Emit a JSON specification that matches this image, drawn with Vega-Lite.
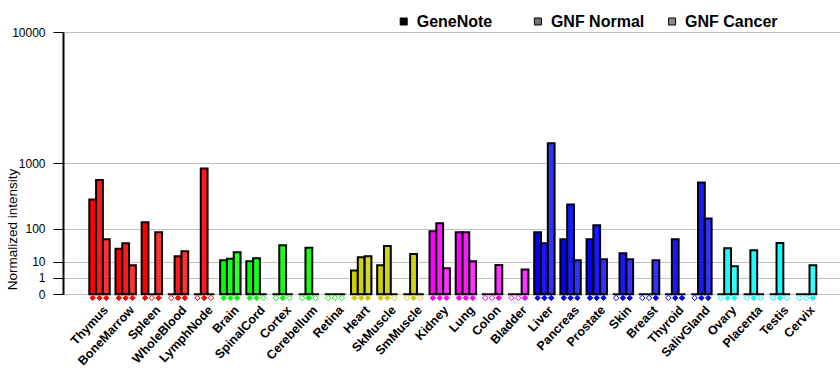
{
  "$schema": "https://vega.github.io/schema/vega-lite/v6.json",
  "width": 777,
  "height": 262.3,
  "autosize": {"type": "none"},
  "padding": {"left": 63, "top": 32, "right": 0, "bottom": 90.7},
  "background": "white",
  "config": {"view": {"stroke": null}, "font": "Liberation Sans"},
  "data": {"values": [
    {"tissue": "Thymus", "grp": "Immune", "series": "GeneNote", "value": 341, "call": "P"},
    {"tissue": "Thymus", "grp": "Immune", "series": "GNF Normal", "value": 631, "call": "P"},
    {"tissue": "Thymus", "grp": "Immune", "series": "GNF Cancer", "value": 55.6, "call": "P"},
    {"tissue": "BoneMarrow", "grp": "Immune", "series": "GeneNote", "value": 29.8, "call": "P"},
    {"tissue": "BoneMarrow", "grp": "Immune", "series": "GNF Normal", "value": 43.3, "call": "P"},
    {"tissue": "BoneMarrow", "grp": "Immune", "series": "GNF Cancer", "value": 6.6, "call": "P"},
    {"tissue": "Spleen", "grp": "Immune", "series": "GeneNote", "value": 136, "call": "P"},
    {"tissue": "Spleen", "grp": "Immune", "series": "GNF Normal", "value": 0, "call": "A"},
    {"tissue": "Spleen", "grp": "Immune", "series": "GNF Cancer", "value": 82.8, "call": "P"},
    {"tissue": "WholeBlood", "grp": "Immune", "series": "GeneNote", "value": 0, "call": "A"},
    {"tissue": "WholeBlood", "grp": "Immune", "series": "GNF Normal", "value": 16.3, "call": "P"},
    {"tissue": "WholeBlood", "grp": "Immune", "series": "GNF Cancer", "value": 24.5, "call": "P"},
    {"tissue": "LymphNode", "grp": "Immune", "series": "GeneNote", "value": 0, "call": "A"},
    {"tissue": "LymphNode", "grp": "Immune", "series": "GNF Normal", "value": 871, "call": "P"},
    {"tissue": "LymphNode", "grp": "Immune", "series": "GNF Cancer", "value": 0, "call": "A"},
    {"tissue": "Brain", "grp": "Neural", "series": "GeneNote", "value": 11.2, "call": "P"},
    {"tissue": "Brain", "grp": "Neural", "series": "GNF Normal", "value": 13.1, "call": "P"},
    {"tissue": "Brain", "grp": "Neural", "series": "GNF Cancer", "value": 22.7, "call": "P"},
    {"tissue": "SpinalCord", "grp": "Neural", "series": "GeneNote", "value": 10.2, "call": "P"},
    {"tissue": "SpinalCord", "grp": "Neural", "series": "GNF Normal", "value": 13.6, "call": "P"},
    {"tissue": "SpinalCord", "grp": "Neural", "series": "GNF Cancer", "value": 0, "call": "A"},
    {"tissue": "Cortex", "grp": "Neural", "series": "GeneNote", "value": 0, "call": "A"},
    {"tissue": "Cortex", "grp": "Neural", "series": "GNF Normal", "value": 37.8, "call": "P"},
    {"tissue": "Cortex", "grp": "Neural", "series": "GNF Cancer", "value": 0, "call": "A"},
    {"tissue": "Cerebellum", "grp": "Neural", "series": "GeneNote", "value": 0, "call": "A"},
    {"tissue": "Cerebellum", "grp": "Neural", "series": "GNF Normal", "value": 32.1, "call": "P"},
    {"tissue": "Cerebellum", "grp": "Neural", "series": "GNF Cancer", "value": 0, "call": "A"},
    {"tissue": "Retina", "grp": "Neural", "series": "GeneNote", "value": 0, "call": "A"},
    {"tissue": "Retina", "grp": "Neural", "series": "GNF Normal", "value": 0, "call": "A"},
    {"tissue": "Retina", "grp": "Neural", "series": "GNF Cancer", "value": 0, "call": "A"},
    {"tissue": "Heart", "grp": "Muscle", "series": "GeneNote", "value": 3.5, "call": "P"},
    {"tissue": "Heart", "grp": "Muscle", "series": "GNF Normal", "value": 14.9, "call": "P"},
    {"tissue": "Heart", "grp": "Muscle", "series": "GNF Cancer", "value": 16.3, "call": "P"},
    {"tissue": "SkMuscle", "grp": "Muscle", "series": "GeneNote", "value": 6.6, "call": "P"},
    {"tissue": "SkMuscle", "grp": "Muscle", "series": "GNF Normal", "value": 36.1, "call": "P"},
    {"tissue": "SkMuscle", "grp": "Muscle", "series": "GNF Cancer", "value": 0, "call": "A"},
    {"tissue": "SmMuscle", "grp": "Muscle", "series": "GeneNote", "value": 0, "call": "A"},
    {"tissue": "SmMuscle", "grp": "Muscle", "series": "GNF Normal", "value": 19.8, "call": "P"},
    {"tissue": "SmMuscle", "grp": "Muscle", "series": "GNF Cancer", "value": 0, "call": "A"},
    {"tissue": "Kidney", "grp": "Epithelial", "series": "GeneNote", "value": 87.3, "call": "P"},
    {"tissue": "Kidney", "grp": "Epithelial", "series": "GNF Normal", "value": 130, "call": "P"},
    {"tissue": "Kidney", "grp": "Epithelial", "series": "GNF Cancer", "value": 4.6, "call": "P"},
    {"tissue": "Lung", "grp": "Epithelial", "series": "GeneNote", "value": 82.8, "call": "P"},
    {"tissue": "Lung", "grp": "Epithelial", "series": "GNF Normal", "value": 82.8, "call": "P"},
    {"tissue": "Lung", "grp": "Epithelial", "series": "GNF Cancer", "value": 10.2, "call": "P"},
    {"tissue": "Colon", "grp": "Epithelial", "series": "GeneNote", "value": 0, "call": "A"},
    {"tissue": "Colon", "grp": "Epithelial", "series": "GNF Normal", "value": 0, "call": "A"},
    {"tissue": "Colon", "grp": "Epithelial", "series": "GNF Cancer", "value": 6.9, "call": "P"},
    {"tissue": "Bladder", "grp": "Epithelial", "series": "GeneNote", "value": 0, "call": "A"},
    {"tissue": "Bladder", "grp": "Epithelial", "series": "GNF Normal", "value": 0, "call": "A"},
    {"tissue": "Bladder", "grp": "Epithelial", "series": "GNF Cancer", "value": 4.0, "call": "P"},
    {"tissue": "Liver", "grp": "Gland", "series": "GeneNote", "value": 82.8, "call": "P"},
    {"tissue": "Liver", "grp": "Gland", "series": "GNF Normal", "value": 43.3, "call": "P"},
    {"tissue": "Liver", "grp": "Gland", "series": "GNF Cancer", "value": 1603, "call": "P"},
    {"tissue": "Pancreas", "grp": "Gland", "series": "GeneNote", "value": 55.6, "call": "P"},
    {"tissue": "Pancreas", "grp": "Gland", "series": "GNF Normal", "value": 285, "call": "P"},
    {"tissue": "Pancreas", "grp": "Gland", "series": "GNF Cancer", "value": 11.2, "call": "P"},
    {"tissue": "Prostate", "grp": "Gland", "series": "GeneNote", "value": 55.6, "call": "P"},
    {"tissue": "Prostate", "grp": "Gland", "series": "GNF Normal", "value": 118, "call": "P"},
    {"tissue": "Prostate", "grp": "Gland", "series": "GNF Cancer", "value": 12.4, "call": "P"},
    {"tissue": "Skin", "grp": "Gland", "series": "GeneNote", "value": 0, "call": "A"},
    {"tissue": "Skin", "grp": "Gland", "series": "GNF Normal", "value": 20.9, "call": "P"},
    {"tissue": "Skin", "grp": "Gland", "series": "GNF Cancer", "value": 12.4, "call": "P"},
    {"tissue": "Breast", "grp": "Gland", "series": "GeneNote", "value": 0, "call": "A"},
    {"tissue": "Breast", "grp": "Gland", "series": "GNF Normal", "value": 0, "call": "A"},
    {"tissue": "Breast", "grp": "Gland", "series": "GNF Cancer", "value": 11.2, "call": "P"},
    {"tissue": "Thyroid", "grp": "Gland", "series": "GeneNote", "value": 0, "call": "A"},
    {"tissue": "Thyroid", "grp": "Gland", "series": "GNF Normal", "value": 55.6, "call": "P"},
    {"tissue": "Thyroid", "grp": "Gland", "series": "GNF Cancer", "value": 0, "call": "P"},
    {"tissue": "SalivGland", "grp": "Gland", "series": "GeneNote", "value": 0, "call": "A"},
    {"tissue": "SalivGland", "grp": "Gland", "series": "GNF Normal", "value": 590, "call": "P"},
    {"tissue": "SalivGland", "grp": "Gland", "series": "GNF Cancer", "value": 162.6, "call": "P"},
    {"tissue": "Ovary", "grp": "Reproductive", "series": "GeneNote", "value": 0, "call": "A"},
    {"tissue": "Ovary", "grp": "Reproductive", "series": "GNF Normal", "value": 30.7, "call": "P"},
    {"tissue": "Ovary", "grp": "Reproductive", "series": "GNF Cancer", "value": 5.9, "call": "P"},
    {"tissue": "Placenta", "grp": "Reproductive", "series": "GeneNote", "value": 0, "call": "A"},
    {"tissue": "Placenta", "grp": "Reproductive", "series": "GNF Normal", "value": 26.5, "call": "P"},
    {"tissue": "Placenta", "grp": "Reproductive", "series": "GNF Cancer", "value": 0, "call": "A"},
    {"tissue": "Testis", "grp": "Reproductive", "series": "GeneNote", "value": 0, "call": "A"},
    {"tissue": "Testis", "grp": "Reproductive", "series": "GNF Normal", "value": 44.2, "call": "P"},
    {"tissue": "Testis", "grp": "Reproductive", "series": "GNF Cancer", "value": 0, "call": "A"},
    {"tissue": "Cervix", "grp": "Reproductive", "series": "GeneNote", "value": 0, "call": "A"},
    {"tissue": "Cervix", "grp": "Reproductive", "series": "GNF Normal", "value": 0, "call": "A"},
    {"tissue": "Cervix", "grp": "Reproductive", "series": "GNF Cancer", "value": 6.6, "call": "P"}
  ]},
  "layer": [
    {
      "mark": {"type": "bar", "stroke": "black", "strokeWidth": 2},
      "encoding": {
        "x": {
          "field": "tissue", "type": "nominal", "sort": null,
          "scale": {"paddingInner": 0.2205, "paddingOuter": 0.955, "align": 0.526},
          "axis": {"title": null, "domain": false, "ticks": false, "labelAngle": -47, "labelAlign": "right", "labelBaseline": "top",
                   "labelFont": "Liberation Sans", "labelFontSize": 12.5, "labelFontWeight": "bold", "labelColor": "black", "labelPadding": 9, "labelOffset": 2}
        },
        "xOffset": {"field": "series", "type": "nominal", "sort": ["GeneNote", "GNF Normal", "GNF Cancer"], "scale": {"paddingInner": 0, "paddingOuter": 0}},
        "y": {
          "field": "value", "type": "quantitative",
          "scale": {"type": "pow", "exponent": 0.30103, "domain": [0, 10000], "nice": false, "zero": true},
          "axis": {"values": [0, 1, 10, 100, 1000, 10000], "format": "d", "title": "Normalized intensity",
                   "grid": true, "gridColor": "#C0C0C0", "gridWidth": 1,
                   "domainColor": "black", "domainWidth": 2, "tickColor": "black", "tickSize": 10, "tickWidth": 1,
                   "labelPadding": 8, "labelFont": "Liberation Sans", "labelFontSize": 12, "labelColor": "black",
                   "labelFlush": false, "labelOverlap": false,
                   "titleFont": "Liberation Sans", "titleFontSize": 13.5, "titleFontWeight": "normal", "titleColor": "black",
                   "titleX": -50.7, "titleY": 197, "titleAngle": -90, "titleAlign": "center", "titleBaseline": "middle"}
        },
        "fill": {"field": "grp", "type": "nominal", "legend": null,
                 "scale": {"domain": ["Immune", "Neural", "Muscle", "Epithelial", "Gland", "Reproductive"],
                           "range": ["#FF0000", "#00FF00", "#CCCC00", "#FF00FF", "#0000FF", "#00FFFF"]}},
        "fillOpacity": {"field": "series", "type": "nominal", "sort": ["GeneNote", "GNF Normal", "GNF Cancer"],
                        "scale": {"domain": ["GeneNote", "GNF Normal", "GNF Cancer"], "range": [1, 0.8, 0.62]},
                        "legend": null}
      }
    },
    {
      "mark": {"type": "point", "shape": "diamond", "size": 30, "filled": false, "strokeWidth": 1, "yOffset": 3.6, "opacity": 1},
      "encoding": {
        "x": {"field": "tissue", "type": "nominal", "sort": null},
        "xOffset": {"field": "series", "type": "nominal", "sort": ["GeneNote", "GNF Normal", "GNF Cancer"]},
        "y": {"datum": 0},
        "stroke": {"field": "grp", "type": "nominal", "legend": null,
                   "scale": {"domain": ["Immune", "Neural", "Muscle", "Epithelial", "Gland", "Reproductive"],
                             "range": ["#FF0000", "#00FF00", "#CCCC00", "#FF00FF", "#0000FF", "#00FFFF"]}},
        "fill": {"condition": {"test": "datum.call === 'A'", "value": "white"}, "field": "grp", "type": "nominal", "legend": null}
      }
    },
    {
      "mark": {"type": "square", "size": 0, "opacity": 0},
      "encoding": {
        "x": {"field": "tissue", "type": "nominal", "sort": null},
        "y": {"datum": 0},
        "color": {"field": "series", "type": "nominal", "sort": ["GeneNote", "GNF Normal", "GNF Cancer"],
                  "scale": {"domain": ["GeneNote", "GNF Normal", "GNF Cancer"], "range": ["#000000", "#707070", "#8A8A8A"]},
                  "legend": {"title": null, "orient": "none", "legendX": 332.7, "legendY": -18.5, "direction": "horizontal",
                             "columns": 3, "gridAlign": "all", "columnPadding": 19.2, "padding": 0,
                             "symbolType": "square", "symbolSize": 49, "symbolOpacity": 1, "symbolStrokeColor": "black", "symbolStrokeWidth": 1,
                             "labelFont": "Liberation Sans", "labelFontSize": 16, "labelFontWeight": "bold", "labelColor": "black", "labelOffset": 5}}
      }
    }
  ]
}
